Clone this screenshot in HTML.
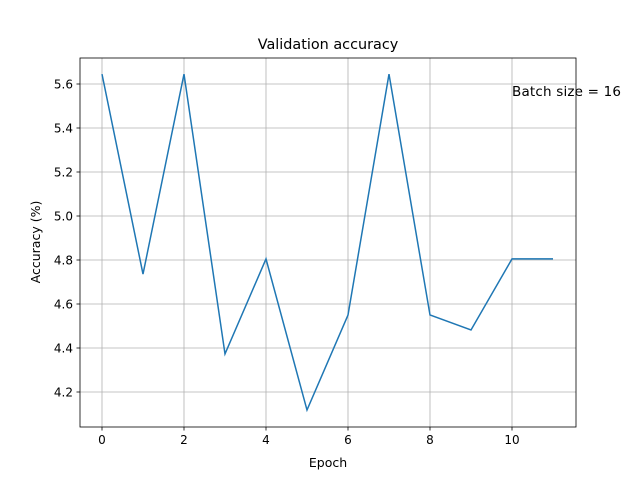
<!DOCTYPE html>
<html><head><meta charset="utf-8"><style>body{margin:0;background:#fff}svg{font-family:"DejaVu Sans","Liberation Sans",sans-serif}</style></head>
<body>
<svg width="640" height="480">
<rect x="0" y="0" width="640" height="480" fill="#fff"/>
<g id="grid"></g>
<g id="ticks"></g>
<path id="line" fill="none" stroke="#1f77b4" stroke-width="1.5"/>
<rect x="80" y="58" width="496" height="369" fill="none" stroke="#000" stroke-width="0.8"/>
<text x="328" y="49" font-size="14.4" text-anchor="middle">Validation accuracy</text>
<text x="328" y="467" font-size="12.5" text-anchor="middle">Epoch</text>
<text transform="translate(40,242) rotate(-90)" font-size="12.5" text-anchor="middle">Accuracy (%)</text>
<text x="512" y="96" font-size="13.5" textLength="109">Batch size = 16</text>
</svg>
<script>
const epochs=[0,1,2,3,4,5,6,7,8,9,10,11];
const accuracy=[5.645,4.736,5.645,4.373,4.805,4.118,4.55,5.645,4.55,4.482,4.805,4.805];
const xTicks=[0,2,4,6,8,10];
const yTicks=[4.2,4.4,4.6,4.8,5.0,5.2,5.4,5.6];
const xs=v=>102+v*41, ys=v=>84+(5.6-v)*220;
const NS="http://www.w3.org/2000/svg";
const g=document.getElementById('grid'),t=document.getElementById('ticks');
function mk(p,tag,a){const e=document.createElementNS(NS,tag);for(const k in a)e.setAttribute(k,a[k]);p.appendChild(e);return e;}
xTicks.forEach(v=>{const x=xs(v);
const l=mk(g,'line',{x1:x,x2:x,y1:58,y2:427,stroke:'#b0b0b0','stroke-width':0.8});


mk(t,'line',{x1:x,x2:x,y1:427,y2:430.5,stroke:'#000','stroke-width':0.8});
const tx=mk(t,'text',{x:x,y:444,'font-size':12,'text-anchor':'middle'});tx.textContent=v;

});
yTicks.forEach(v=>{const y=ys(v);
const l=mk(g,'line',{x1:80,x2:576,y1:y,y2:y,stroke:'#b0b0b0','stroke-width':0.8});


mk(t,'line',{x1:76.5,x2:80,y1:y,y2:y,stroke:'#000','stroke-width':0.8});
const tx=mk(t,'text',{x:73,y:y+4.5,'font-size':12,'text-anchor':'end'});tx.textContent=v.toFixed(1);

});
document.getElementById('line').setAttribute('d',epochs.map((e,i)=>(i?'L':'M')+xs(e)+','+ys(accuracy[i])).join(' '));
</script>
</body></html>
